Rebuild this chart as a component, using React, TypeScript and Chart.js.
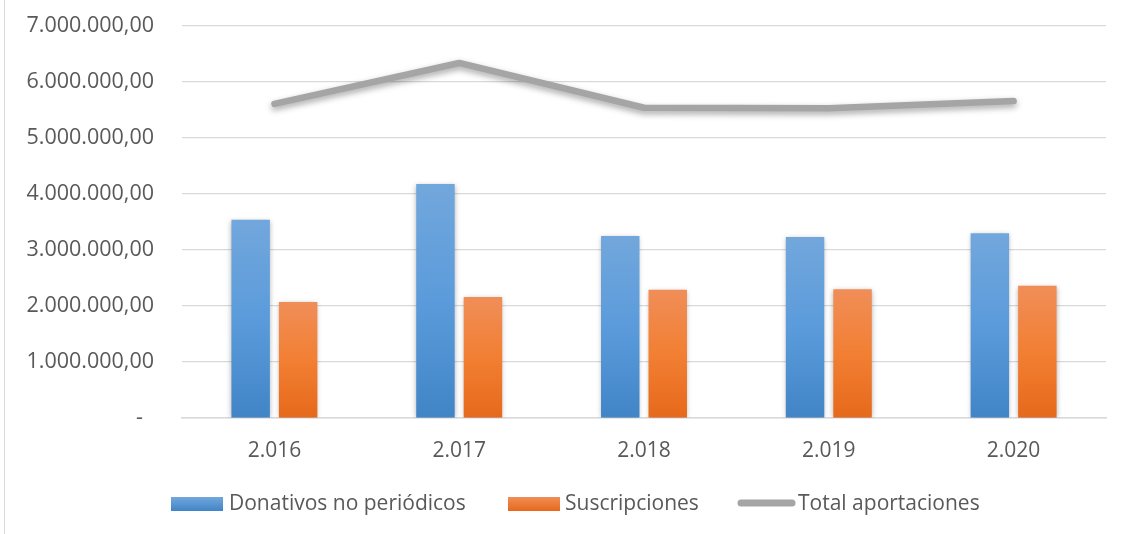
import React, { useEffect, useRef } from "react";
import { Chart, registerables } from "chart.js";

Chart.register(...registerables);

const categories = ["2.016", "2.017", "2.018", "2.019", "2.020"];
const donativos = [3540000, 4180000, 3250000, 3230000, 3300000];
const suscripciones = [2070000, 2160000, 2290000, 2300000, 2360000];
const total = [5610000, 6340000, 5540000, 5530000, 5660000];
const seriesNames = ["Donativos no periódicos", "Suscripciones", "Total aportaciones"];
const yTicks = [0, 1000000, 2000000, 3000000, 4000000, 5000000, 6000000, 7000000];

const BLUE_TOP = "#72a7dc";
const BLUE_BOT = "#4185c7";
const ORANGE_TOP = "#f08e58";
const ORANGE_BOT = "#e6691b";
const GRAY = "#a5a5a5";
const TEXT = "#595959";
const GRID = "#d9d9d9";
const FONT = '"Open Sans", sans-serif';

function fmt(v: number): string {
  if (v === 0) return "-  ";
  const s = Math.round(v).toString();
  const parts: string[] = [];
  for (let i = s.length; i > 0; i -= 3) parts.unshift(s.slice(Math.max(0, i - 3), i));
  return parts.join(".") + ",00";
}

function barGradient(top: string, mid: string, bot: string) {
  return (ctx: any) => {
    const chart = ctx.chart;
    const y = chart.scales && chart.scales.y;
    if (!chart.chartArea || !y || ctx.type !== "data") return bot;
    const v = ctx.raw as number;
    const y0 = y.getPixelForValue(v);
    const y1 = y.getPixelForValue(0);
    if (!isFinite(y0) || !isFinite(y1) || y0 === y1) return bot;
    const g = chart.ctx.createLinearGradient(0, y0, 0, y1);
    g.addColorStop(0, top);
    g.addColorStop(0.5, mid);
    g.addColorStop(1, bot);
    return g;
  };
}

const shadowPlugin = {
  id: "shadows",
  beforeDatasetDraw(chart: any, args: any) {
    const ctx = chart.ctx;
    ctx.save();
    if (args.index === 2) {
      ctx.shadowColor = "rgba(0,0,0,0.35)";
      ctx.shadowBlur = 6;
      ctx.shadowOffsetY = 3;
    } else {
      ctx.shadowColor = "rgba(0,0,0,0.3)";
      ctx.shadowBlur = 5;
      ctx.shadowOffsetY = 1;
    }
  },
  afterDatasetDraw(chart: any) {
    chart.ctx.restore();
  },
};

const legendPlugin = {
  id: "customLegend",
  afterDraw(chart: any) {
    const ctx = chart.ctx as CanvasRenderingContext2D;
    const cy = 504;
    ctx.save();
    ctx.font = "21px " + FONT;
    ctx.textBaseline = "middle";
    ctx.textAlign = "left";
    const items = [
      { x: 171, kind: "bar", top: BLUE_TOP, bot: BLUE_BOT, textX: 229 },
      { x: 508, kind: "bar", top: ORANGE_TOP, bot: ORANGE_BOT, textX: 565 },
      { x: 741, kind: "line", top: GRAY, bot: GRAY, textX: 798 },
    ];
    items.forEach((it, i) => {
      if (it.kind === "bar") {
        const g = ctx.createLinearGradient(0, cy - 7, 0, cy + 7);
        g.addColorStop(0, it.top);
        g.addColorStop(1, it.bot);
        ctx.fillStyle = g;
        ctx.fillRect(it.x, cy - 7, 52, 14);
      } else {
        ctx.strokeStyle = GRAY;
        ctx.lineWidth = 7;
        ctx.lineCap = "round";
        ctx.beginPath();
        ctx.moveTo(it.x, cy - 1);
        ctx.lineTo(it.x + 51, cy - 1);
        ctx.stroke();
      }
      ctx.fillStyle = TEXT;
      ctx.fillText(seriesNames[i], it.textX, cy);
    });
    ctx.restore();
  },
};

export default function App() {
  const ref = useRef<HTMLCanvasElement | null>(null);
  useEffect(() => {
    document.body.style.margin = "0";
    let chart: Chart | null = null;
    let cancelled = false;
    const build = () => {
      if (cancelled || !ref.current) return;
      chart = new Chart(ref.current, {
        type: "bar",
        data: {
          labels: categories,
          datasets: [
            {
              type: "bar",
              label: seriesNames[0],
              data: donativos,
              backgroundColor: barGradient(BLUE_TOP, "#5b9bdb", BLUE_BOT),
              barPercentage: 0.81,
              categoryPercentage: 0.514,
              order: 2,
            },
            {
              type: "bar",
              label: seriesNames[1],
              data: suscripciones,
              backgroundColor: barGradient(ORANGE_TOP, "#f27f33", ORANGE_BOT),
              barPercentage: 0.81,
              categoryPercentage: 0.514,
              order: 2,
            },
            {
              type: "line",
              label: seriesNames[2],
              data: total,
              borderColor: GRAY,
              backgroundColor: GRAY,
              borderWidth: 6.5,
              borderCapStyle: "round",
              borderJoinStyle: "round",
              pointRadius: 0,
              tension: 0,
              order: 1,
            } as any,
          ],
        },
        options: {
          responsive: false,
          animation: false,
          layout: { padding: { left: 0, right: 20, top: 26, bottom: 0 } },
          plugins: { legend: { display: false }, tooltip: { enabled: false } },
          scales: {
            x: {
              grid: { display: false, drawTicks: false },
              border: { display: true, color: GRID, width: 1.5 },
              ticks: {
                color: TEXT,
                font: { family: FONT, size: 21 },
                padding: 20,
              },
              afterFit: (s: any) => {
                s.height = 116;
              },
            },
            y: {
              min: 0,
              max: 7000000,
              afterBuildTicks: (s: any) => {
                s.ticks = yTicks.map((v) => ({ value: v }));
              },
              grid: { color: GRID, lineWidth: 1.2, drawTicks: false },
              border: { display: false },
              ticks: {
                color: TEXT,
                font: { family: FONT, size: 21.5 },
                padding: 28,
                callback: (v: any) => fmt(Number(v)),
              },
              afterFit: (s: any) => {
                s.width = 182;
                s.paddingTop = 0;
                s.paddingBottom = 0;
              },
            },
          },
        },
        plugins: [shadowPlugin, legendPlugin],
      });
    };
    const fontsApi: any = (document as any).fonts;
    if (fontsApi && fontsApi.load) {
      Promise.all([fontsApi.load("21px \"Open Sans\""), fontsApi.load("21.5px \"Open Sans\"")])
        .catch(() => null)
        .then(build);
    } else {
      build();
    }
    return () => {
      cancelled = true;
      if (chart) chart.destroy();
    };
  }, []);
  return (
    <div style={{ position: "relative", width: 1126, height: 534, background: "#fff" }}>
      <div
        style={{
          position: "absolute",
          left: 4,
          top: 0,
          width: 0,
          height: 534,
          borderLeft: "1.5px solid #d9d9d9",
        }}
      />
      <canvas ref={ref} width={1126} height={534} style={{ display: "block" }} />
    </div>
  );
}
